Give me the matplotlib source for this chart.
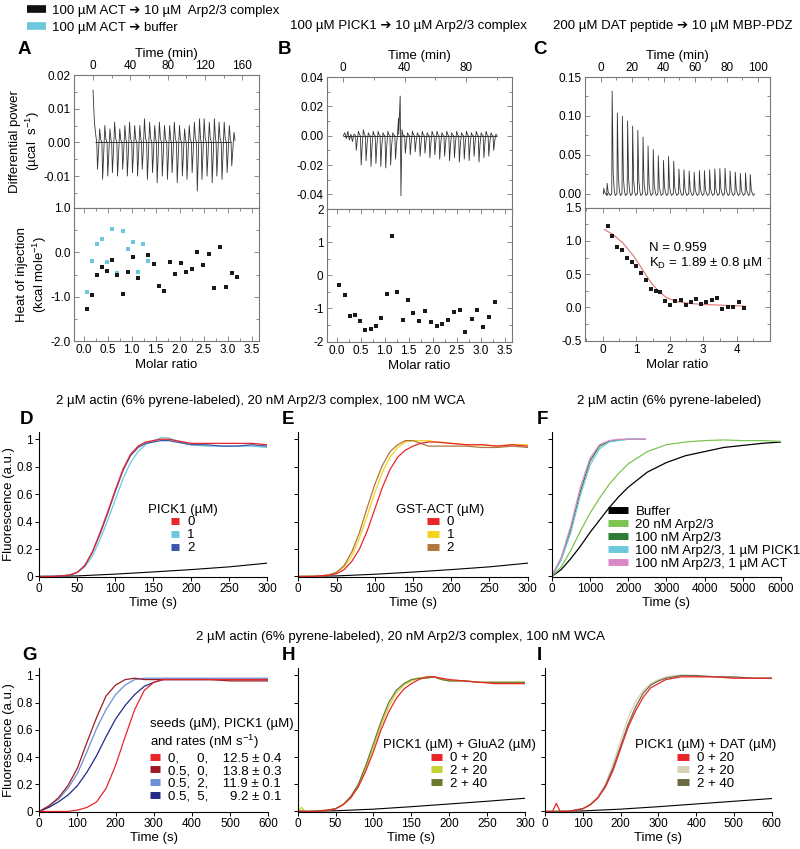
import numpy as np
import matplotlib.pyplot as plt
from matplotlib.lines import Line2D
from matplotlib.ticker import AutoMinorLocator

plt.rcParams['font.family'] = ['Liberation Sans', 'DejaVu Sans']
plt.rcParams['mathtext.default'] = 'regular'
plt.rcParams['axes.unicode_minus'] = False
plt.rcParams['font.size'] = 9

TXT = 9.5     # labels, legends, headers
TICK = 8.5

# ---------------- colours ----------------
RED = '#e8262a'
CYAN = '#6cc8dc'
BLUE = '#3a56a8'
YELLOW = '#f6d21c'
BROWN = '#b0773c'
LTGREEN = '#7cc552'
DKGREEN = '#2f7a35'
PINK = '#d98ac6'
DKRED = '#9c1c22'
LTBLUE = '#6b8fd8'
NAVY = '#202b88'
YGREEN = '#c5d330'
OLIVE = '#6a7a2c'
BEIGE = '#d8d2b6'
DKOLIVE = '#6b6a42'
TRACE = '#333333'
FRAME = '#777777'

# ---------------- A: 100 uM ACT -> 10 uM Arp2/3 ----------------
a_lead_t = [0, 0.5, 1.5, 3, 4]
a_lead_p = [0.0155, 0.012, 0.006, 0.002, 0.0]
a_inj_t = [4, 9.5, 15, 20, 25.5, 31, 36, 41.5, 47, 52, 57.5, 63, 68, 73.5,
           79, 84, 89.5, 95, 100, 105.5, 111, 116, 121.5, 127, 132, 137.5, 143, 148]
a_dip = [-0.008, -0.011, -0.010, -0.009, -0.010, -0.008, -0.010, -0.009, -0.010, -0.008,
         -0.011, -0.009, -0.012, -0.010, -0.011, -0.009, -0.012, -0.010, -0.011, -0.009,
         -0.0145, -0.011, -0.010, -0.012, -0.010, -0.011, -0.009, -0.007]
a_rise = [0.004, 0.005, 0.004, 0.006, 0.004, 0.005, 0.006, 0.005, 0.005, 0.007,
          0.006, 0.005, 0.006, 0.005, 0.005, 0.006, 0.005, 0.004, 0.005, 0.006,
          0.007, 0.007, 0.006, 0.007, 0.006, 0.006, 0.005, 0.003]
a_ratio = [0.08, 0.17, 0.28, 0.39, 0.48, 0.60, 0.70, 0.81, 0.92, 1.02, 1.13, 1.35, 1.46, 1.57,
           1.68, 1.80, 1.90, 2.02, 2.13, 2.25, 2.37, 2.49, 2.60, 2.72, 2.84, 2.96, 3.08, 3.20]
a_heat = [-1.27, -0.97, -0.51, -0.32, -0.42, -0.17, -0.50, -0.94, -0.44, -0.10, -0.58, -0.07,
          -0.26, -0.76, -0.88, -0.22, -0.49, -0.24, -0.45, -0.37, 0.00, -0.28, -0.04, -0.81,
          0.12, -0.78, -0.47, -0.55]
a_buf_ratio = [0.08, 0.17, 0.28, 0.39, 0.48, 0.60, 0.70, 0.81, 0.92, 1.02, 1.13, 1.24, 1.35]
a_buf_heat = [-0.89, -0.20, 0.19, 0.31, -0.21, 0.52, -0.46, 0.48, 0.08, 0.24, -0.45, 0.19, -0.20]

# ---------------- B: 100 uM PICK1 -> 10 uM Arp2/3 ----------------
b_lead_t = [0, 1, 2, 3, 4, 5, 6, 7]
b_lead_p = [0.0, 0.002, -0.002, 0.003, -0.003, 0.001, -0.004, 0.001]
b_inj_t = [8, 11.2, 14.4, 17.6, 20.8, 24, 27.2, 30.4, 33.6, 40, 43.2, 46.4, 49.6, 52.8,
           56, 59.2, 62.4, 65.6, 68.8, 72, 75.2, 78.4, 81.6, 84.8, 88, 91.2, 94.4, 97.6]
b_dip = [-0.010, -0.020, -0.017, -0.021, -0.019, -0.021, -0.022, -0.020, -0.016, -0.012,
         -0.013, -0.011, -0.014, -0.012, -0.015, -0.013, -0.016, -0.014, -0.017, -0.015,
         -0.018, -0.016, -0.017, -0.014, -0.018, -0.015, -0.014, -0.010]
b_rise = [0.003, 0.004, 0.002, 0.003, 0.003, 0.002, 0.003, 0.002, 0.004, 0.002,
          0.003, 0.002, 0.003, 0.002, 0.003, 0.003, 0.002, 0.003, 0.002, 0.003,
          0.002, 0.003, 0.002, 0.003, 0.002, 0.003, 0.002, 0.001]
b_event_t = [35.3, 36.0, 36.6, 37.1, 37.6, 38.3, 39.0]
b_event_p = [0.0, 0.012, 0.013, 0.027, -0.041, 0.004, 0.0]
b_ratio = [0.06, 0.17, 0.27, 0.38, 0.49, 0.60, 0.71, 0.81, 0.93, 1.04, 1.15, 1.26, 1.38, 1.49,
           1.60, 1.72, 1.84, 1.96, 2.08, 2.19, 2.31, 2.44, 2.56, 2.68, 2.81, 2.92, 3.05, 3.17, 3.30]
b_heat = [-0.30, -0.61, -1.23, -1.20, -1.39, -1.65, -1.61, -1.53, -1.29, -0.58, 1.19, -0.51,
          -1.36, -0.75, -1.15, -1.39, -1.07, -1.40, -1.53, -1.46, -1.36, -1.11, -1.04, -1.70,
          -1.33, -1.04, -1.56, -1.27, -0.81]

# ---------------- C: 200 uM DAT peptide -> 10 uM MBP-PDZ ----------------
c_inj_t = [1.7, 3.8, 7.0, 10.3, 13.5, 16.8, 20.0, 23.3, 26.6, 29.8, 33.1, 36.3, 39.6, 42.8,
           46.1, 49.4, 52.6, 55.9, 59.1, 62.4, 65.6, 68.9, 72.2, 75.4, 78.7, 81.9, 85.2,
           88.4, 91.7, 94.7]
c_peak = [0.0073, 0.0137, 0.132, 0.104, 0.0996, 0.0936, 0.087, 0.0816, 0.073, 0.0615, 0.057,
          0.049, 0.043, 0.048, 0.042, 0.032, 0.031, 0.0295, 0.0278, 0.030, 0.030, 0.031,
          0.032, 0.0325, 0.033, 0.0295, 0.028, 0.0265, 0.027, 0.025]
c_ratio = [0.15, 0.29, 0.44, 0.58, 0.72, 0.86, 1.00, 1.15, 1.29, 1.44, 1.58, 1.72, 1.87, 2.02,
           2.17, 2.33, 2.48, 2.64, 2.79, 2.94, 3.10, 3.26, 3.42, 3.58, 3.74, 3.90, 4.06, 4.23]
c_heat = [1.22, 1.08, 0.91, 0.86, 0.75, 0.68, 0.62, 0.52, 0.42, 0.28, 0.24, 0.23, 0.10, 0.035,
          0.09, 0.105, 0.03, 0.075, 0.12, 0.05, 0.085, 0.115, 0.135, -0.02, 0.0, 0.0, 0.075, -0.01]
c_fit_ratio = [0.05, 0.3, 0.6, 0.9, 1.1, 1.3, 1.5, 1.7, 1.9, 2.2, 2.6, 3.0, 3.5, 4.0, 4.25]
c_fit_heat = [1.17, 1.10, 0.97, 0.79, 0.64, 0.48, 0.34, 0.23, 0.15, 0.09, 0.06, 0.045, 0.035,
              0.025, 0.02]

# ---------------- D ----------------
d_t = [0, 20, 40, 50, 60, 70, 80, 90, 100, 110, 120, 130, 140, 150, 160, 170, 180, 200,
       220, 240, 260, 280, 300]
d_pick0 = [0.0, 0.0, 0.01, 0.03, 0.08, 0.18, 0.32, 0.47, 0.63, 0.78, 0.89, 0.95, 0.98, 0.99,
           1.0, 1.0, 0.99, 0.97, 0.97, 0.97, 0.97, 0.97, 0.96]
d_pick1 = [0.0, 0.0, 0.01, 0.03, 0.07, 0.15, 0.27, 0.41, 0.56, 0.71, 0.83, 0.91, 0.96, 0.99,
           1.01, 1.01, 0.99, 0.96, 0.95, 0.95, 0.95, 0.95, 0.94]
d_pick2 = [0.0, 0.0, 0.01, 0.03, 0.08, 0.18, 0.31, 0.46, 0.62, 0.77, 0.88, 0.94, 0.97, 0.98,
           0.99, 0.99, 0.98, 0.96, 0.96, 0.95, 0.95, 0.96, 0.95]
base_t300 = [0, 50, 100, 150, 200, 250, 300]
d_base = [0.0, 0.004, 0.017, 0.033, 0.050, 0.070, 0.097]

# ---------------- E ----------------
e_t = d_t
e_act0 = [0.0, 0.0, 0.01, 0.02, 0.05, 0.11, 0.20, 0.33, 0.49, 0.65, 0.78, 0.87, 0.92, 0.95,
          0.97, 0.98, 0.98, 0.97, 0.96, 0.96, 0.95, 0.96, 0.95]
e_act1 = [0.0, 0.0, 0.01, 0.03, 0.07, 0.15, 0.28, 0.44, 0.61, 0.76, 0.87, 0.94, 0.98, 0.99,
          0.99, 0.99, 0.98, 0.97, 0.96, 0.96, 0.95, 0.96, 0.96]
e_act2 = [0.0, 0.0, 0.01, 0.03, 0.08, 0.18, 0.32, 0.50, 0.67, 0.81, 0.91, 0.96, 0.99, 0.99,
          0.97, 0.95, 0.95, 0.95, 0.95, 0.94, 0.94, 0.95, 0.94]
e_base = [0.0, 0.004, 0.016, 0.032, 0.050, 0.070, 0.097]

# ---------------- F ----------------
f_fast_t = [0, 250, 500, 750, 1000, 1250, 1500, 1750, 2000, 2250, 2450]
f_arp100 = [0, 0.13, 0.34, 0.62, 0.84, 0.95, 0.985, 0.995, 1.0, 1.0, 1.0]
f_pick = [0, 0.12, 0.32, 0.59, 0.81, 0.93, 0.98, 0.99, 1.0, 1.0, 1.0]
f_act = [0, 0.14, 0.37, 0.65, 0.86, 0.96, 0.99, 1.0, 1.0, 1.0, 1.0]
f_slow_t = [0, 250, 500, 750, 1000, 1250, 1500, 1750, 2000, 2500, 3000, 3500, 4000, 4500,
            5000, 5500, 6000]
f_arp20 = [0, 0.07, 0.19, 0.33, 0.46, 0.57, 0.67, 0.75, 0.82, 0.91, 0.96, 0.98, 0.99, 0.995,
           0.99, 0.99, 0.985]
f_buffer = [0, 0.05, 0.13, 0.22, 0.32, 0.41, 0.50, 0.58, 0.65, 0.76, 0.83, 0.88, 0.91, 0.94,
            0.955, 0.97, 0.98]

# ---------------- G ----------------
g_t = [0, 25, 50, 75, 100, 125, 150, 175, 200, 225, 250, 275, 300, 325, 350, 400, 450, 500,
       550, 600]
g_s0_p0 = [0, 0.0, 0.0, 0.0, 0.01, 0.03, 0.07, 0.17, 0.34, 0.55, 0.75, 0.89, 0.95, 0.97, 0.97,
           0.97, 0.97, 0.97, 0.97, 0.97]
g_s5_p0 = [0, 0.04, 0.10, 0.19, 0.32, 0.51, 0.69, 0.85, 0.93, 0.97, 0.98, 0.97, 0.97, 0.97,
           0.97, 0.97, 0.97, 0.96, 0.96, 0.96]
g_s5_p2 = [0, 0.04, 0.09, 0.17, 0.28, 0.44, 0.61, 0.75, 0.86, 0.93, 0.97, 0.98, 0.98, 0.98,
           0.98, 0.98, 0.98, 0.98, 0.98, 0.98]
g_s5_p5 = [0, 0.03, 0.07, 0.12, 0.19, 0.29, 0.41, 0.55, 0.68, 0.78, 0.86, 0.92, 0.95, 0.97,
           0.97, 0.97, 0.97, 0.97, 0.97, 0.97]
g_labels = ['0,     0,    12.5 ± 0.4', '0.5,  0,    13.8 ± 0.3',
            '0.5,  2,    11.9 ± 0.1', '0.5,  5,      9.2 ± 0.1']

# ---------------- H ----------------
h_t = [0, 5, 10, 20, 40, 50, 60, 70, 80, 90, 100, 110, 120, 130, 140, 150, 160, 170, 180,
       190, 200, 220, 240, 260, 280, 300]
h_0_20 = [0, 0, 0, 0, 0.01, 0.02, 0.05, 0.10, 0.18, 0.30, 0.44, 0.60, 0.73, 0.83, 0.90, 0.94,
          0.97, 0.99, 0.99, 0.98, 0.97, 0.96, 0.95, 0.94, 0.94, 0.94]
h_2_20 = [0, 0.03, 0, 0, 0.01, 0.02, 0.05, 0.10, 0.19, 0.32, 0.47, 0.63, 0.77, 0.87, 0.93,
          0.96, 0.98, 0.99, 0.99, 0.97, 0.96, 0.96, 0.95, 0.95, 0.95, 0.95]
h_2_40 = [0, 0.005, 0, 0, 0.01, 0.02, 0.05, 0.11, 0.20, 0.34, 0.50, 0.66, 0.80, 0.89, 0.94,
          0.97, 0.98, 0.98, 0.99, 0.97, 0.96, 0.96, 0.95, 0.95, 0.95, 0.95]
h_base = [0.0, 0.005, 0.017, 0.035, 0.055, 0.075, 0.097]

# ---------------- I ----------------
i_t = [0, 20, 25, 30, 35, 40, 60, 80, 100, 120, 140, 160, 180, 200, 220, 240, 260, 280, 300,
       320, 340, 360, 380, 400, 450, 500, 550, 600]
i_0_20 = [0, 0, 0.03, 0.06, 0.03, 0, 0, 0.01, 0.02, 0.05, 0.10, 0.18, 0.30, 0.46, 0.62, 0.74,
          0.84, 0.91, 0.94, 0.97, 0.98, 0.99, 0.99, 0.99, 0.99, 0.98, 0.98, 0.98]
i_2_20 = [0, 0, 0, 0, 0, 0, 0, 0.01, 0.02, 0.05, 0.11, 0.20, 0.35, 0.52, 0.69, 0.81, 0.89,
          0.94, 0.97, 0.99, 1.0, 1.0, 1.0, 0.99, 0.99, 0.98, 0.98, 0.98]
i_2_40 = [0, 0, 0, 0, 0, 0, 0, 0.01, 0.02, 0.05, 0.10, 0.19, 0.32, 0.48, 0.64, 0.77, 0.87,
          0.93, 0.96, 0.98, 0.99, 1.0, 1.0, 1.0, 0.99, 0.99, 0.98, 0.98]
base_t600 = [0, 100, 200, 300, 400, 500, 600]
i_base = [0.0, 0.004, 0.017, 0.035, 0.055, 0.075, 0.095]


def dip_trace(lead_t, lead_p, times, lows, highs, width, ev_t=(), ev_p=()):
    # one negative dip then a small overshoot per injection
    t, p = list(lead_t), list(lead_p)
    for ti, lo, hi in zip(times, lows, highs):
        t += [ti + 0.02, ti + 0.15 * width, ti + 0.35 * width, ti + 0.6 * width, ti + 0.8 * width]
        p += [0.0, lo, 0.35 * lo, hi, 0.2 * hi]
    t += list(ev_t)
    p += list(ev_p)
    order = np.argsort(t)
    return np.array(t)[order], np.array(p)[order]


def peak_trace(times, heights):
    t, p = [], []
    for ti, h in zip(times, heights):
        t += [ti, ti + 0.25, ti + 0.9, ti + 1.6, ti + 2.2, ti + 3.0]
        p += [0.0, h, 0.2 * h, 0.03 * h, -0.002, 0.0]
    return t, p


def fig_rect(x0, y0, x1, y1):
    return [x0 / 800, 1 - y1 / 849, (x1 - x0) / 800, (y1 - y0) / 849]


def itc_frame(ax):
    for s in ax.spines.values():
        s.set_color(FRAME)
        s.set_linewidth(0.8)
    ax.tick_params(which='both', direction='in', width=0.6, color=FRAME, labelsize=TICK,
                   pad=2.5)
    ax.tick_params(which='major', length=3.5)
    ax.tick_params(which='minor', length=2)
    ax.tick_params(axis='y', which='both', right=True)


def itc_top(ax, t, p, xlim, ylim, yticks, fmt, xticks):
    ax.plot(t, p, color=TRACE, lw=0.6)
    ax.set_xlim(*xlim)
    ax.set_ylim(*ylim)
    ax.xaxis.tick_top()
    ax.xaxis.set_label_position('top')
    ax.set_xticks(xticks)
    ax.xaxis.set_minor_locator(AutoMinorLocator(2))
    ax.set_yticks(yticks)
    ax.set_yticklabels([fmt.format(v) for v in yticks])
    ax.yaxis.set_minor_locator(AutoMinorLocator(2))
    ax.set_xlabel('Time (min)', fontsize=TXT, labelpad=2)
    itc_frame(ax)


def itc_bottom(ax, xlim, ylim, yticks, fmt, xticks, xfmt):
    ax.set_xlim(*xlim)
    ax.set_ylim(*ylim)
    ax.set_yticks(yticks)
    ax.set_yticklabels([fmt.format(v) for v in yticks])
    ax.yaxis.set_minor_locator(AutoMinorLocator(2))
    ax.set_xticks(xticks)
    ax.set_xticklabels([xfmt.format(v) for v in xticks])
    ax.xaxis.set_minor_locator(AutoMinorLocator(2))
    ax.tick_params(axis='x', which='both', top=True)
    ax.set_xlabel('Molar ratio', fontsize=TXT, labelpad=2)
    itc_frame(ax)


def kin_frame(ax, xlim, xticks, ylabels):
    ax.set_xlim(*xlim)
    ax.set_ylim(-0.004, 1.055)
    ax.set_xticks(xticks)
    ax.set_yticks([0, 0.2, 0.4, 0.6, 0.8, 1.0])
    if ylabels:
        ax.set_yticklabels(['0', '0.2', '0.4', '0.6', '0.8', '1'])
        ax.set_ylabel('Fluorescence (a.u.)', fontsize=TXT, labelpad=1)
    else:
        ax.set_yticklabels([])
    for s in ['top', 'right']:
        ax.spines[s].set_visible(False)
    for s in ['left', 'bottom']:
        ax.spines[s].set_linewidth(0.8)
    ax.tick_params(direction='out', length=3, width=0.7, labelsize=TICK, pad=1.5)
    ax.set_xlabel('Time (s)', fontsize=TXT, labelpad=1)


def kin_legend(ax, colors, labels, title, anchor, loc, hlen, align='center'):
    handles = [Line2D([], [], color=c, lw=5, solid_capstyle='butt') for c in colors]
    leg = ax.legend(handles, labels, title=title, loc=loc, bbox_to_anchor=anchor,
                    frameon=False, fontsize=TXT, title_fontsize=TXT, handlelength=hlen,
                    handletextpad=0.6, labelspacing=0.05, borderpad=0.1, alignment=align)
    return leg


fig = plt.figure(figsize=(8, 8.49), dpi=100)

# ---------- top row ----------
axA1 = fig.add_axes(fig_rect(74, 75, 259, 208))
ta, pa = dip_trace(a_lead_t, a_lead_p, a_inj_t, a_dip, a_rise, 5.3)
axA1.hlines(0, a_inj_t[0] - 2, a_inj_t[-1], color='#111111', lw=0.6)
itc_top(axA1, ta, pa, (-20.4, 178), (-0.0195, 0.02), [0.02, 0.01, 0.0, -0.01], '{:.2f}',
        [0, 40, 80, 120, 160])
axA1.set_ylabel('Differential power\n(µcal  s$^{-1}$)', fontsize=TXT, labelpad=1)

axA2 = fig.add_axes(fig_rect(74, 208, 259, 341))
axA2.plot(a_buf_ratio, a_buf_heat, 's', ms=3.4, color=CYAN, mew=0)
axA2.plot(a_ratio, a_heat, 's', ms=3.4, color='#1a1a1a', mew=0)
itc_bottom(axA2, (-0.2, 3.65), (-2.0, 1.0), [1.0, 0.0, -1.0, -2.0], '{:.1f}',
           [0, 0.5, 1.0, 1.5, 2.0, 2.5, 3.0, 3.5], '{:.1f}')
axA2.set_ylabel('Heat of injection\n(kcal mole$^{-1}$)', fontsize=TXT, labelpad=1)

axB1 = fig.add_axes(fig_rect(327, 77, 512, 209))
tb, pb = dip_trace(b_lead_t, b_lead_p, b_inj_t, b_dip, b_rise, 3.2, b_event_t, b_event_p)
axB1.hlines(0, b_lead_t[0], b_inj_t[-1] + 2.5, color='#111111', lw=0.6)
itc_top(axB1, tb, pb, (-10.6, 110), (-0.05, 0.04), [0.04, 0.02, 0.0, -0.02, -0.04],
        '{:.2f}', [0, 40, 80])

axB2 = fig.add_axes(fig_rect(327, 209, 512, 341.5))
axB2.plot(b_ratio, b_heat, 's', ms=3.4, color='#1a1a1a', mew=0)
itc_bottom(axB2, (-0.2, 3.65), (-2.0, 2.0), [2, 1, 0, -1, -2], '{:d}',
           [0, 0.5, 1.0, 1.5, 2.0, 2.5, 3.0, 3.5], '{:.1f}')

axC1 = fig.add_axes(fig_rect(585, 77, 770, 207.7))
tc, pc = peak_trace(c_inj_t, c_peak)
itc_top(axC1, tc, pc, (-10, 107.5), (-0.0176, 0.15), [0.15, 0.10, 0.05, 0.0], '{:.2f}',
        [0, 20, 40, 60, 80, 100])

axC2 = fig.add_axes(fig_rect(585, 207.7, 770, 340.7))
axC2.plot(c_fit_ratio, c_fit_heat, color='#e07272', lw=0.8)
axC2.plot(c_ratio, c_heat, 's', ms=3.4, color='#1a1a1a', mew=0)
itc_bottom(axC2, (-0.53, 5.0), (-0.5, 1.5), [1.5, 1.0, 0.5, 0.0, -0.5], '{:.1f}',
           [0, 1, 2, 3, 4], '{:d}')
axC2.text(0.345, 0.70, 'N = 0.959', transform=axC2.transAxes, fontsize=9.5, va='center')
axC2.text(0.345, 0.585, 'K$_D$ = 1.89 ± 0.8 µM', transform=axC2.transAxes, fontsize=9.5,
          va='center')

# top legend and headers
top_handles = [Line2D([], [], color='#111111', lw=5.5, solid_capstyle='butt'),
               Line2D([], [], color=CYAN, lw=5.5, solid_capstyle='butt')]
fig.legend(top_handles, ['100 µM ACT ➔ 10 µM  Arp2/3 complex', '100 µM ACT ➔ buffer'],
           loc='upper left', bbox_to_anchor=(26 / 800, 1 - 3 / 849), frameon=False,
           fontsize=TXT, handlelength=1.4, handletextpad=0.45, labelspacing=0.4,
           borderpad=0.05, borderaxespad=0.05)
fig.text(290 / 800, 1 - 26 / 849, '100 µM PICK1 ➔ 10 µM Arp2/3 complex', fontsize=TXT,
         va='center')
fig.text(553 / 800, 1 - 26 / 849, '200 µM DAT peptide ➔ 10 µM MBP-PDZ', fontsize=TXT,
         va='center')

# ---------- middle row ----------
axD = fig.add_axes(fig_rect(39.3, 431.7, 267.3, 577))
axD.plot(base_t300, d_base, color='black', lw=0.8)
axD.plot(d_t, d_pick1, color=CYAN, lw=0.9)
axD.plot(d_t, d_pick2, color=BLUE, lw=0.9)
axD.plot(d_t, d_pick0, color=RED, lw=0.9)
kin_frame(axD, (0, 300), [0, 50, 100, 150, 200, 250, 300], True)
kin_legend(axD, [RED, CYAN, BLUE], ['0', '1', '2'], 'PICK1 (µM)', (0.63, 0.56),
           'upper center', 0.6)

axE = fig.add_axes(fig_rect(298.3, 431.7, 527.7, 577))
axE.plot(base_t300, e_base, color='black', lw=0.8)
axE.plot(e_t, e_act1, color=YELLOW, lw=0.9)
axE.plot(e_t, e_act2, color=BROWN, lw=0.9)
axE.plot(e_t, e_act0, color=RED, lw=0.9)
kin_frame(axE, (0, 300), [0, 50, 100, 150, 200, 250, 300], False)
kin_legend(axE, [RED, YELLOW, BROWN], ['0', '1', '2'], 'GST-ACT (µM)', (0.62, 0.56),
           'upper center', 0.9)

axF = fig.add_axes(fig_rect(551.7, 431.7, 781, 577))
axF.plot(f_slow_t, f_buffer, color='black', lw=0.9)
axF.plot(f_slow_t, f_arp20, color=LTGREEN, lw=0.9)
axF.plot(f_fast_t, f_arp100, color=DKGREEN, lw=0.9)
axF.plot(f_fast_t, f_pick, color=CYAN, lw=0.9)
axF.plot(f_fast_t, f_act, color=PINK, lw=0.9)
kin_frame(axF, (0, 6000), [0, 1000, 2000, 3000, 4000, 5000, 6000], False)
kin_legend(axF, ['black', LTGREEN, DKGREEN, CYAN, PINK],
           ['Buffer', '20 nM Arp2/3', '100 nM Arp2/3', '100 nM Arp2/3, 1 µM PICK1',
            '100 nM Arp2/3, 1 µM ACT'], None, (0.21, 0.545), 'upper left', 1.5)

fig.text(260 / 800, 1 - 401 / 849,
         '2 µM actin (6% pyrene-labeled), 20 nM Arp2/3 complex, 100 nM WCA',
         fontsize=TXT, ha='center', va='center')
fig.text(669 / 800, 1 - 401 / 849, '2 µM actin (6% pyrene-labeled)', fontsize=TXT,
         ha='center', va='center')

# ---------- bottom row ----------
axG = fig.add_axes(fig_rect(39.3, 668, 268.3, 812))
axG.plot(g_t, g_s5_p2, color=LTBLUE, lw=0.9)
axG.plot(g_t, g_s5_p5, color=NAVY, lw=0.9)
axG.plot(g_t, g_s5_p0, color=DKRED, lw=0.9)
axG.plot(g_t, g_s0_p0, color=RED, lw=0.9)
kin_frame(axG, (0, 600), [0, 100, 200, 300, 400, 500, 600], True)
kin_legend(axG, [RED, DKRED, LTBLUE, NAVY], g_labels,
           'seeds (µM), PICK1 (µM)\nand rates (nM s$^{-1}$)', (0.45, 0.705),
           'upper left', 0.75, align='left')

axH = fig.add_axes(fig_rect(297.7, 668, 525, 812))
axH.plot(base_t300, h_base, color='black', lw=0.8)
axH.plot(h_t, h_2_20, color=YGREEN, lw=0.9)
axH.plot(h_t, h_2_40, color=OLIVE, lw=0.9)
axH.plot(h_t, h_0_20, color=RED, lw=0.9)
kin_frame(axH, (0, 300), [0, 50, 100, 150, 200, 250, 300], False)
kin_legend(axH, [RED, YGREEN, OLIVE], ['0 + 20', '2 + 20', '2 + 40'],
           'PICK1 (µM) + GluA2 (µM)', (0.71, 0.56), 'upper center', 0.9)

axI = fig.add_axes(fig_rect(545, 668, 771.7, 812))
axI.plot(base_t600, i_base, color='black', lw=0.8)
axI.plot(i_t, i_2_20, color=BEIGE, lw=0.9)
axI.plot(i_t, i_2_40, color=DKOLIVE, lw=0.9)
axI.plot(i_t, i_0_20, color=RED, lw=0.9)
kin_frame(axI, (0, 600), [0, 100, 200, 300, 400, 500, 600], False)
kin_legend(axI, [RED, BEIGE, DKOLIVE], ['0 + 20', '2 + 20', '2 + 40'],
           'PICK1 (µM) + DAT (µM)', (0.71, 0.56), 'upper center', 0.9)

fig.text(400 / 800, 1 - 637 / 849,
         '2 µM actin (6% pyrene-labeled), 20 nM Arp2/3 complex, 100 nM WCA',
         fontsize=TXT, ha='center', va='center')

# ---------- panel letters ----------
for letter, x, y in [('A', 18, 50), ('B', 278, 50), ('C', 533, 50),
                     ('D', 20, 420), ('E', 282, 420), ('F', 537, 420),
                     ('G', 22, 656), ('H', 282, 656), ('I', 537, 656)]:
    fig.text(x / 800, 1 - y / 849, letter, fontsize=13.5, fontweight='bold', va='center')

fig.savefig('out.png', dpi=100)
